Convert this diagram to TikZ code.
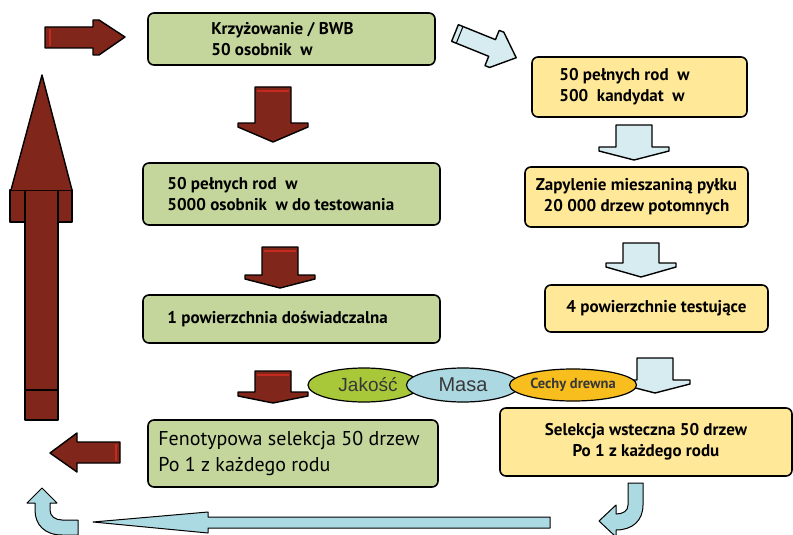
\documentclass[tikz,border=0pt]{standalone}
\usepackage{fontspec}
\setmainfont{PT Sans}
\newfontfamily\ovalfont{Liberation Sans}
\usetikzlibrary{shapes.geometric}

\definecolor{boxgreen}{RGB}{196,214,156}
\definecolor{boxyellow}{RGB}{255,232,152}
\definecolor{arrowred}{RGB}{128,38,26}
\definecolor{stripered}{RGB}{196,42,30}
\definecolor{paleblue}{RGB}{214,236,240}
\definecolor{lightblue}{RGB}{172,218,226}
\definecolor{ovalgreen}{RGB}{168,200,58}
\definecolor{ovalblue}{RGB}{172,216,226}
\definecolor{ovalorange}{RGB}{248,190,30}
\definecolor{ovaltext}{RGB}{56,56,56}

\tikzset{
  stepbox/.style={draw=black, line width=1.6pt, rounded corners=6pt, inner sep=0pt},
  greenbox/.style={stepbox, fill=boxgreen},
  yellowbox/.style={stepbox, fill=boxyellow},
  boxfont/.style={font=\bfseries\fontsize{17}{21}\selectfont},
  boxtext/.style={boxfont, align=left, anchor=west, inner sep=0pt},
  trait/.style={ellipse, draw=black, line width=1.2pt, inner sep=0pt, text=ovaltext},
  redarrow/.style={fill=arrowred, draw=black, line width=1.4pt, line join=round},
  bluearrow/.style={fill=paleblue, draw=black, line width=1.4pt, line join=round},
  loopback/.style={fill=lightblue, draw=black, line width=1pt, line join=round},
}

% block arrow pointing down: #1 style, #2 centre x, #3 top, #4 wing, #5 tip
\newcommand{\blockdown}[5]{%
  \draw[#1] (#2-18,#3) -- (#2+18,#3) -- (#2+18,#4) -- (#2+35,#4) -- (#2+35,#4+4)
    -- (#2,#5) -- (#2-35,#4+4) -- (#2-35,#4) -- (#2-18,#4) -- cycle;}

\begin{document}
\begin{tikzpicture}[x=1pt, y=-1pt]
    \useasboundingbox (0,0) rectangle (793,535);

    % Left column - green boxes
    \node[greenbox, minimum width=287pt, minimum height=52pt] (cross) at (291.5,39) {};
    \node[boxtext] (crosstext) at ([xshift=64pt]cross.west) {Krzyżowanie / BWB\\50 osobnik\ \ w};

    \node[greenbox, minimum width=297pt, minimum height=62pt] (fams) at (291.5,194) {};
    \node[boxtext] (famstext) at ([xshift=25pt]fams.west) {50 pełnych rod\ \ w\\5000 osobnik\ \ w do testowania};

    \node[greenbox, minimum width=297pt, minimum height=48pt] (trial) at (291.5,319) {};
    \node[boxtext] (trialtext) at ([xshift=25pt]trial.west) {1 powierzchnia doświadczalna};

    \node[greenbox, minimum width=290pt, minimum height=67pt] (pheno) at (293,453.5) {};
    \node[boxtext, font=\fontsize{20}{26}\selectfont] (phenotext) at ([xshift=11pt]pheno.west)
        {Fenotypowa selekcja 50 drzew\\Po 1 z każdego rodu};

    % Right column - yellow boxes
    \node[yellowbox, minimum width=215pt, minimum height=60pt] (cand) at (639.5,87) {};
    \node[boxtext] (candtext) at ([xshift=28pt]cand.west) {50 pełnych rod\ \ w\\500\ \ kandydat\ \ w};

    \node[yellowbox, boxfont, minimum width=223pt, minimum height=60pt, align=center] (pollen)
        at (636.5,197) {Zapylenie mieszaniną pyłku\\20 000 drzew potomnych};

    \node[yellowbox, minimum width=223pt, minimum height=47pt] (tests) at (656.5,308.5) {};
    \node[boxtext] (teststext) at ([xshift=22pt]tests.west) {4 powierzchnie testujące};

    \node[yellowbox, boxfont, minimum width=292pt, minimum height=68pt, align=center] (back)
        at (646,442) {Selekcja wsteczna 50 drzew\\Po 1 z każdego rodu};

    % Red arrows down the left column
    \blockdown{redarrow}{273}{87}{123}{142}
    \blockdown{redarrow}{280}{247}{275}{288}
    \blockdown{redarrow}{273}{371}{392}{403}
    \foreach \cx/\top in {273/87, 280/247, 273/371}
        \draw[stripered, line width=2pt] (\cx-16,\top+4) -- (\cx+16,\top+4);

    % Pale blue arrows down the right column
    \blockdown{bluearrow}{634}{125}{147}{160}
    \blockdown{bluearrow}{641}{243}{263}{277}
    \blockdown{bluearrow}{655}{358}{380}{393}

    % Traits used for the selection
    \node[trait, fill=ovalgreen, minimum width=112pt, minimum height=34pt,
          font=\ovalfont\fontsize{19}{19}\selectfont] (quality) at (364,385) {\hspace{8pt}Jakość};
    \node[trait, fill=ovalblue, minimum width=113pt, minimum height=34pt,
          font=\ovalfont\fontsize{20}{20}\selectfont] (mass) at (463,385) {Masa};
    \node[trait, fill=ovalorange, minimum width=127pt, minimum height=32pt,
          font=\bfseries\fontsize{14.5}{14.5}\selectfont] (wood) at (573,385) {Cechy drewna};

    % Arrow from the crossing to the candidates
    \begin{scope}[shift={(455,33)}, rotate=-22]
        \draw[bluearrow] (0,-9) -- (40,-9) -- (40,-19) -- (45,-19) -- (66,0)
            -- (45,19) -- (40,19) -- (40,9) -- (0,9) -- cycle;
        \draw[line width=1pt] (5,-9) -- (5,9);
    \end{scope}

    % Arrow into the crossing
    \draw[redarrow] (45,27) -- (93,27) -- (93,20) -- (99,20) -- (125,37)
        -- (99,55) -- (93,55) -- (93,48) -- (45,48) -- cycle;
    \draw[stripered, line width=2pt] (50,29) -- (50,46);

    % Arrow out of the phenotypic selection
    \draw[redarrow] (120,442) -- (120,463) -- (77,463) -- (77,472) -- (50,453)
        -- (77,433) -- (77,442) -- cycle;
    \draw[stripered, line width=2pt] (116,444) -- (116,461);

    % Long arrow back to the crossing
    \filldraw[redarrow] (25,420) -- (25,190) -- (58,190) -- (58,420) -- cycle;
    \filldraw[redarrow] (10,190) rectangle (25,222);
    \filldraw[redarrow] (58,190) rectangle (72,222);
    \filldraw[redarrow] (11,190) -- (42,75) -- (72,190);
    \draw[line width=1.2pt] (25,390) -- (58,390);

    % Backward selection loop along the bottom
    \draw[loopback] (628,483) -- (643,483) -- (643,505)
        .. controls (643,521) and (632,530) .. (616,530) -- (616,537) -- (599,521)
        -- (616,505) -- (616,514) .. controls (623,514) and (628,511) .. (628,505) -- cycle;
    \draw[loopback] (550,517) -- (550,528) -- (208,528) -- (208,533) -- (93,522)
        -- (208,512) -- (208,517) -- cycle;
    \draw[loopback] (78,520) -- (78,535) -- (62,535)
        .. controls (45,535) and (35,525) .. (35,510) -- (35,503) -- (27,503) -- (42,488)
        -- (57,503) -- (50,503) -- (50,510) .. controls (50,516) and (55,520) .. (62,520) -- cycle;
\end{tikzpicture}
\end{document}
